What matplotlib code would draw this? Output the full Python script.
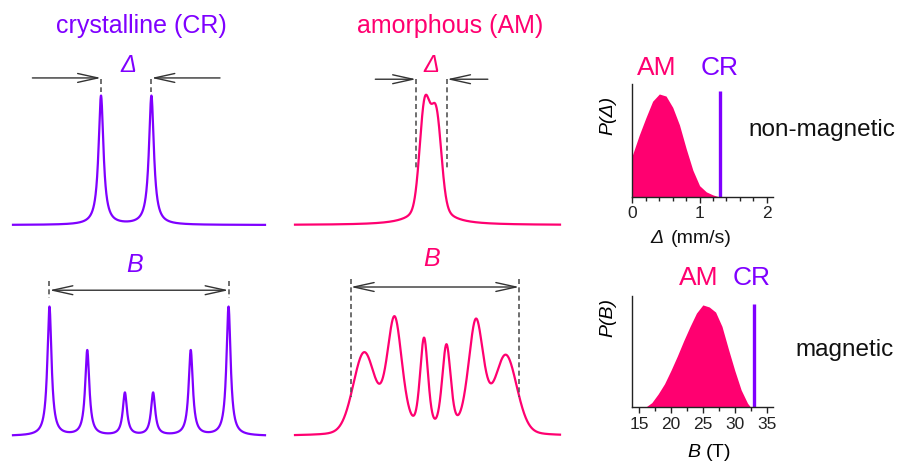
import numpy as np
import matplotlib
matplotlib.use("Agg")
import matplotlib.pyplot as plt
from matplotlib.ticker import MultipleLocator

plt.rcParams['font.family'] = ['Liberation Sans', 'DejaVu Sans']
plt.rcParams['mathtext.fontset'] = 'custom'
plt.rcParams['mathtext.rm'] = 'Liberation Sans'
plt.rcParams['mathtext.it'] = 'Liberation Sans:italic'

PURPLE = '#7F00FF'
PINK = '#FF0070'
DARK = '#333333'

# ---------------- data ----------------
# crystalline doublet (mm/s)
cr_doublet_pos = [-0.65, 0.65]
cr_doublet_amp = [1.0, 1.0]
cr_doublet_hwhm = [0.077, 0.077]
cr_doublet_eta = [1.0, 1.0]

# amorphous doublet components (mm/s)
am_doublet_pos = [-0.18, 0.125, -0.026]
am_doublet_amp = [0.72, 0.64, 0.28]
am_doublet_hwhm = [0.15, 0.15, 0.335]
am_doublet_eta = [0.0, 0.0, 1.0]

# crystalline sextet (mm/s)
cr_sextet_pos = [-5.33, -3.08, -0.84, 0.84, 3.08, 5.33]
cr_sextet_amp = [1.0, 0.66, 0.33, 0.33, 0.66, 1.0]
cr_sextet_hwhm = [0.15, 0.15, 0.15, 0.15, 0.15, 0.15]
cr_sextet_eta = [1.0, 1.0, 1.0, 1.0, 1.0, 1.0]

# amorphous sextet components (mm/s)
am_sextet_pos = [-4.21, -2.40, -0.65, 0.68, 2.43, 4.21]
am_sextet_amp = [0.62, 0.89, 0.71, 0.66, 0.87, 0.60]
am_sextet_hwhm = [0.77, 0.53, 0.28, 0.30, 0.53, 0.77]
am_sextet_eta = [0.15, 0.35, 0.35, 0.35, 0.35, 0.15]

# splittings marked by the arrows
delta_cr = 1.3
delta_am = 0.8
b_span_cr = 10.66
b_span_am = 10.0

# distributions
p_delta_x = [0.0, 0.1, 0.2, 0.3, 0.4, 0.5, 0.6, 0.7, 0.8, 0.9, 1.0, 1.1, 1.2, 1.3]
p_delta_y = [0.41, 0.60, 0.77, 0.93, 1.0, 0.98, 0.87, 0.70, 0.47, 0.26, 0.11, 0.05, 0.02, 0.0]
p_b_x = [16, 17, 18, 19, 20, 21, 22, 23, 24, 25, 26, 27, 28, 29, 30, 31, 32, 32.5]
p_b_y = [0.0, 0.045, 0.13, 0.23, 0.36, 0.50, 0.65, 0.79, 0.92, 1.0, 0.98, 0.93, 0.79, 0.57, 0.36, 0.17, 0.04, 0.0]
cr_delta_value = 1.3
cr_b_value = 33

# ---------------- helpers ----------------
W, H = 904, 464
fig = plt.figure(figsize=(W / 100, H / 100), dpi=100)


def px_axes(x0, x1, y_top, y_bot):
    return fig.add_axes([x0 / W, 1 - y_bot / H, (x1 - x0) / W, (y_bot - y_top) / H])


def pv(v, x0, hwhm, eta):
    u = (v - x0) / hwhm
    return (1 - eta) * np.exp(-np.log(2) * u ** 2) + eta / (1 + u ** 2)


def spectrum(v, pos, amp, hwhm, eta):
    y = np.zeros_like(v)
    for p, a, w, e in zip(pos, amp, hwhm, eta):
        y += a * pv(v, p, w, e)
    return y


def arrow(ax, start, end, both=False):
    style = '<->' if both else '->'
    ax.annotate('', xy=end, xytext=start, annotation_clip=False,
                arrowprops=dict(arrowstyle=style + ',head_length=1.45,head_width=0.32',
                                lw=1.0, color=DARK, shrinkA=0, shrinkB=0,
                                mutation_scale=10))


def dash(ax, x, y0, y1):
    ax.plot([x, x], [y0, y1], ls=(0, (3, 2)), color='#555555', lw=1.2, clip_on=False)


# ---------------- top-left: CR doublet ----------------
ax1 = px_axes(13, 265, 97, 226)
ax1.set_xlim(-2.92, 3.58)
ax1.set_ylim(0, 1)
v = np.linspace(-2.92, 3.58, 3000)
ax1.plot(v, spectrum(v, cr_doublet_pos, cr_doublet_amp, cr_doublet_hwhm, cr_doublet_eta),
         color=PURPLE, lw=1.6, clip_on=False)
for s in (-1, 1):
    x = s * delta_cr / 2
    arrow(ax1, (x + s * 1.77, 1.14), (x, 1.14))
    dash(ax1, x, 1.13, 1.03)
ax1.text(0.05, 1.245, '\u0394', color=PURPLE, fontsize=17, style='italic',
         ha='center', va='center', clip_on=False)
ax1.axis('off')

# ---------------- top-middle: AM doublet ----------------
ax2 = px_axes(295, 560, 97, 226)
ax2.set_xlim(-3.52, 3.31)
ax2.set_ylim(0, 1)
v = np.linspace(-3.52, 3.31, 3000)
ax2.plot(v, spectrum(v, am_doublet_pos, am_doublet_amp, am_doublet_hwhm, am_doublet_eta),
         color=PINK, lw=1.6, clip_on=False)
for s in (-1, 1):
    x = s * delta_am / 2
    arrow(ax2, (x + s * 1.05, 1.13), (x, 1.13))
    dash(ax2, x, 1.13, 0.43)
ax2.text(0.0, 1.245, '\u0394', color=PINK, fontsize=17, style='italic',
         ha='center', va='center', clip_on=False)
ax2.axis('off')

# ---------------- bottom-left: CR sextet ----------------
ax3 = px_axes(13, 265, 308, 437)
ax3.set_xlim(-7.5, 7.5)
ax3.set_ylim(0, 1)
v = np.linspace(-7.5, 7.5, 4000)
ax3.plot(v, spectrum(v, cr_sextet_pos, cr_sextet_amp, cr_sextet_hwhm, cr_sextet_eta),
         color=PURPLE, lw=1.6, clip_on=False)
arrow(ax3, (-b_span_cr / 2, 1.13), (b_span_cr / 2, 1.13), both=True)
dash(ax3, -b_span_cr / 2, 1.20, 1.07)
dash(ax3, b_span_cr / 2, 1.20, 1.07)
ax3.text(-0.24, 1.33, 'B', color=PURPLE, fontsize=18, style='italic',
         ha='center', va='center', clip_on=False)
ax3.axis('off')

# ---------------- bottom-middle: AM sextet ----------------
ax4 = px_axes(295, 560, 308, 437)
ax4.set_xlim(-8.31, 7.42)
ax4.set_ylim(0, 1)
v = np.linspace(-8.31, 7.42, 4000)
ax4.plot(v, spectrum(v, am_sextet_pos, am_sextet_amp, am_sextet_hwhm, am_sextet_eta),
         color=PINK, lw=1.6, clip_on=False)
arrow(ax4, (-b_span_am / 2, 1.155), (b_span_am / 2, 1.155), both=True)
dash(ax4, -b_span_am / 2, 1.217, 0.30)
dash(ax4, b_span_am / 2, 1.217, 0.30)
ax4.text(-0.18, 1.38, 'B', color=PINK, fontsize=18, style='italic',
         ha='center', va='center', clip_on=False)
ax4.axis('off')

# ---------------- titles ----------------
fig.text(141.5 / W, 1 - 26 / H, 'crystalline (CR)', color=PURPLE, fontsize=18,
         ha='center', va='center')
fig.text(450 / W, 1 - 26 / H, 'amorphous (AM)', color=PINK, fontsize=18,
         ha='center', va='center')


def style_dist_axes(ax):
    for sp in ('top', 'right'):
        ax.spines[sp].set_visible(False)
    for sp in ('left', 'bottom'):
        ax.spines[sp].set_color('#222222')
        ax.spines[sp].set_linewidth(1.0)
    ax.set_yticks([])
    ax.tick_params(axis='x', which='major', direction='out', length=4, width=1,
                   labelsize=12.5, pad=2, colors='#222222')
    ax.tick_params(axis='x', which='minor', direction='out', length=3, width=1,
                   colors='#222222')


# ---------------- P(Delta) ----------------
ax5 = px_axes(632.5, 773, 85, 198)
ax5.set_xlim(0, 2.094)
ax5.set_ylim(0, 1.097)
ax5.fill_between(p_delta_x, p_delta_y, 0, color=PINK, lw=0)
ax5.vlines(cr_delta_value, 0, 1.03, color=PURPLE, lw=2.4)
ax5.set_xticks([0, 1, 2])
ax5.xaxis.set_minor_locator(MultipleLocator(0.2))
style_dist_axes(ax5)
# x label: italic Delta followed by upright unit
ax5.text(0.175, -0.36, '\u0394', fontsize=14, style='italic', color='#111111',
         transform=ax5.transAxes, ha='center', va='center')
ax5.text(0.49, -0.36, '(mm/s)', fontsize=14, color='#111111',
         transform=ax5.transAxes, ha='center', va='center')
ax5.set_ylabel('P(\u0394)', fontsize=14, style='italic')
ax5.yaxis.set_label_coords(-0.175, 0.735)
ax5.yaxis.label.set_va('center')

# ---------------- P(B) ----------------
ax6 = px_axes(632.3, 773, 296.7, 408.3)
ax6.set_xlim(13.95, 35.99)
ax6.set_ylim(0, 1.09)
ax6.fill_between(p_b_x, p_b_y, 0, color=PINK, lw=0)
ax6.vlines(cr_b_value, 0, 1.01, color=PURPLE, lw=2.4)
ax6.set_xticks([15, 20, 25, 30, 35])
ax6.xaxis.set_minor_locator(MultipleLocator(2.5))
style_dist_axes(ax6)
ax6.set_xlabel(r'$\mathit{B}$ (T)', fontsize=14)
ax6.xaxis.set_label_coords(0.545, -0.40)
ax6.xaxis.label.set_va('center')
ax6.set_ylabel('P(B)', fontsize=14, style='italic')
ax6.yaxis.set_label_coords(-0.175, 0.81)
ax6.yaxis.label.set_va('center')

# ---------------- labels on the right ----------------
fig.text(657 / W, 1 - 68 / H, 'AM', color=PINK, fontsize=19, ha='center', va='center')
fig.text(720 / W, 1 - 68 / H, 'CR', color=PURPLE, fontsize=19, ha='center', va='center')
fig.text(699 / W, 1 - 278 / H, 'AM', color=PINK, fontsize=19, ha='center', va='center')
fig.text(752 / W, 1 - 278 / H, 'CR', color=PURPLE, fontsize=19, ha='center', va='center')
fig.text(822 / W, 1 - 130 / H, 'non-magnetic', color='#111111', fontsize=17.5,
         ha='center', va='center')
fig.text(845 / W, 1 - 350 / H, 'magnetic', color='#111111', fontsize=17.5,
         ha='center', va='center')

fig.savefig('out.png', dpi=100)
